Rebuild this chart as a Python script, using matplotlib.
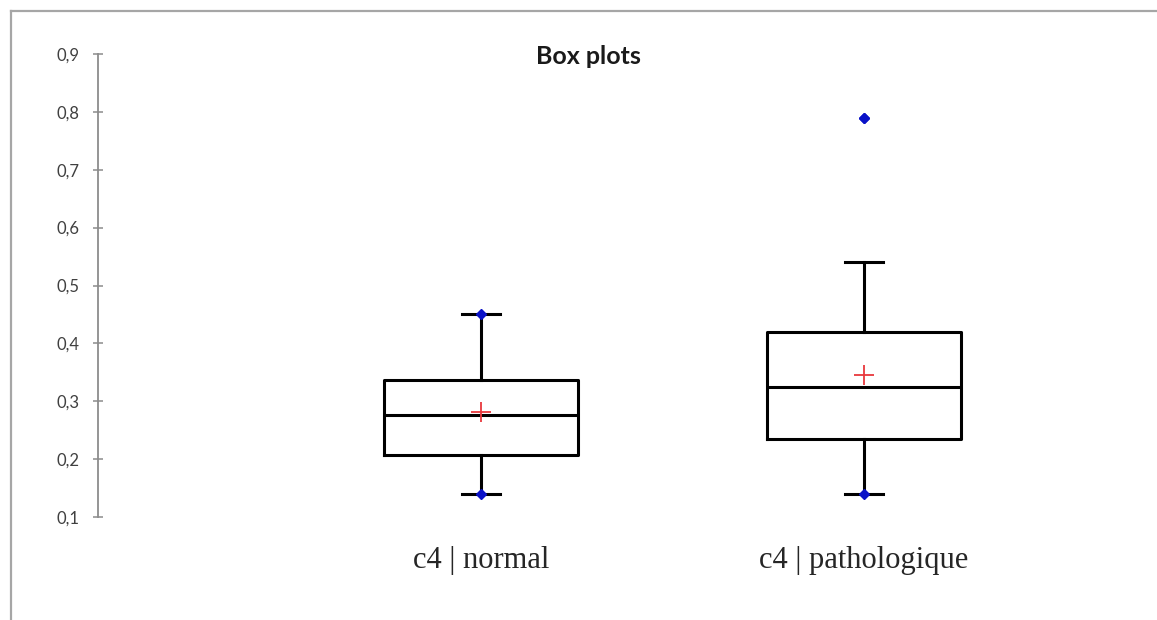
import matplotlib
matplotlib.use("Agg")
import matplotlib.pyplot as plt
from matplotlib.lines import Line2D

# Summary statistics per group
categories = ["c4 | normal", "c4 | pathologique"]
q1 = [0.207, 0.235]
median = [0.277, 0.325]
q3 = [0.337, 0.420]
whisker_low = [0.14, 0.14]
whisker_high = [0.45, 0.54]
mean = [0.282, 0.346]
minimum = [0.14, 0.14]
maximum = [0.45, 0.79]
outliers = [[], [0.79]]

yticks = [0.1, 0.2, 0.3, 0.4, 0.5, 0.6, 0.7, 0.8, 0.9]
ytick_labels = ["0,1", "0,2", "0,3", "0,4", "0,5", "0,6", "0,7", "0,8", "0,9"]

W, H = 1157, 620
fig = plt.figure(figsize=(W / 100, H / 100), dpi=100)
fig.patch.set_facecolor("white")

# Outer frame (top and left edges)
frame_col = "#a6a6a6"
fig.add_artist(Line2D([11 / W, 1.0], [1 - 11 / H, 1 - 11 / H], color=frame_col, lw=1.6,
                      transform=fig.transFigure))
fig.add_artist(Line2D([11 / W, 11 / W], [0.0, 1 - 11 / H], color=frame_col, lw=1.6,
                      transform=fig.transFigure))

ax = fig.add_axes([98 / W, (H - 517) / H, (1147 - 98) / W, (517 - 54) / H])
ax.set_facecolor("none")

stats = []
for i in range(len(categories)):
    stats.append(dict(label=categories[i], q1=q1[i], med=median[i], q3=q3[i],
                      whislo=whisker_low[i], whishi=whisker_high[i],
                      mean=mean[i], fliers=outliers[i]))

positions = [1, 2]
line = dict(color="black", linewidth=2.2)
ax.bxp(stats, positions=positions, widths=0.504, showmeans=True,
       boxprops=line, medianprops=line, whiskerprops=line,
       capprops=line, capwidths=0.1,
       meanprops=dict(marker="+", markeredgecolor="#e8383d", markersize=15,
                      markeredgewidth=1.3),
       flierprops=dict(marker="D", markerfacecolor="#0a12c8",
                       markeredgecolor="#0a12c8", markersize=5))

# Minimum and maximum observations
ax.plot(positions, minimum, linestyle="none", marker="D", color="#0a12c8",
        markersize=5, zorder=5)
ax.plot(positions, maximum, linestyle="none", marker="D", color="#0a12c8",
        markersize=5, zorder=5)

ax.set_xlim(0, (1147 - 98) / 383)
ax.set_ylim(0.1, 0.9)

ax.set_yticks(yticks)
ax.set_yticklabels(ytick_labels, fontfamily="Lato", fontsize=12, color="#404040")
ax.tick_params(axis="y", direction="inout", length=7, width=1.1, color="#8c8c8c",
               pad=10)

ax.set_xticks(positions)
ax.set_xticklabels(categories, fontfamily="Liberation Serif", fontsize=22,
                   color="#262626")
ax.tick_params(axis="x", length=0, pad=21)

for side in ["top", "right", "bottom"]:
    ax.spines[side].set_visible(False)
ax.spines["left"].set_color("#8c8c8c")
ax.spines["left"].set_linewidth(1.3)

fig.text(588 / W, 1 - 57 / H, "Box plots", ha="center", va="center",
         fontfamily="Lato", fontweight="bold", fontsize=18, color="#1a1a1a")

fig.savefig("out.png", dpi=100)
